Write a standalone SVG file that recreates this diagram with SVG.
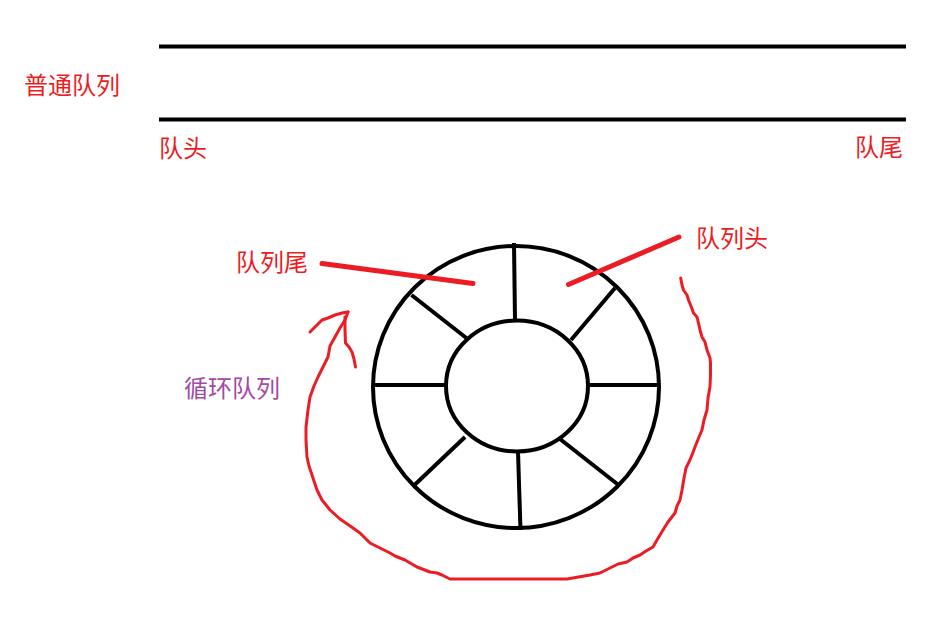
<svg xmlns="http://www.w3.org/2000/svg" width="946" height="622" viewBox="0 0 946 622">
<style>
.bk{stroke:#000;stroke-width:4;fill:none;stroke-linecap:butt}
.rd{stroke:#ED1C24;fill:none;stroke-linecap:round;stroke-linejoin:round}
.t{font-family:"Noto Sans CJK SC","Noto Sans",sans-serif;font-size:24px;fill:#ED1C24}
.p{fill:#A349A4}
</style>
<rect width="946" height="622" fill="#fff"/>
<g id="normal-queue">
<line class="bk" x1="159" y1="46.5" x2="906" y2="46.5"/>
<line class="bk" x1="159" y1="119.5" x2="906" y2="119.5"/>
<text class="t" x="24" y="93.5">普通队列</text>
<text class="t" x="159" y="156.5">队头</text>
<text class="t" x="855" y="155.5">队尾</text>
</g>
<g id="ring">
<ellipse class="bk" cx="516" cy="387" rx="143" ry="141"/>
<ellipse class="bk" cx="517" cy="386" rx="71" ry="65.5"/>
<line class="bk" x1="514" y1="243" x2="515" y2="320"/>
<line class="bk" x1="411.5" y1="295" x2="467" y2="338.5"/>
<line class="bk" x1="615" y1="288" x2="571" y2="340"/>
<line class="bk" x1="373" y1="385" x2="446" y2="385"/>
<line class="bk" x1="588" y1="385" x2="659" y2="385"/>
<line class="bk" x1="465" y1="437" x2="414.5" y2="485"/>
<line class="bk" x1="518" y1="452" x2="520.5" y2="530"/>
<line class="bk" x1="560" y1="439" x2="618.5" y2="485"/>
</g>
<g id="labels">
<text class="t" x="236" y="270.5">队列尾</text>
<text class="t" x="696" y="246.5">队列头</text>
<text class="t p" x="184" y="396.5">循环队列</text>
</g>
<g id="connectors">
<line class="rd" stroke-width="5" x1="322" y1="263.5" x2="473" y2="283.5"/>
<line class="rd" stroke-width="5" x1="568.5" y1="284.5" x2="679" y2="237"/>
<path class="rd" stroke-width="3" d="M680.7,278 L682,285 L683.5,290 L687,295 L688.5,300 L691,306 L693.5,313 L697,317 L698.5,323 L700,330 L702,337 L705,342 L707,350 L710,358 L710.5,363 L710.5,375 L710,387 L708,398 L707,410 L704,420 L702,430 L699,437 L695,447 L692,455 L689,462 L686,468 L684,478 L682,490 L680,500 L677,506 L675,513 L668,522 L663,530 L657,540 L653,547 L646,551 L640,555 L633,558 L627,562 L618,564 L610,568 L600,573 L590,575 L567,579 L450,579 L442,575 L437,573 L430,572 L417,567 L405,560 L395,556 L390,553 L378,547 L370,543 L360,533 L353,528 L340,519 L330,510 L322,500 L317,490 L313,478 L309,466 L307,457 L306,440 L306,427 L308,410 L310,397 L314,386 L318,377 L323,367 L328,357 L330,346 L335,337 L340,328 L345,320 L348,312"/>
<path class="rd" stroke-width="3" d="M310,332 L316,326 L322,320 L328,318 L335,315 L342,313 L348,312 M345,317 L345,330 L345.5,343 L349,347 L352,352 L354,359 L355.5,367"/>
</g>
</svg>
